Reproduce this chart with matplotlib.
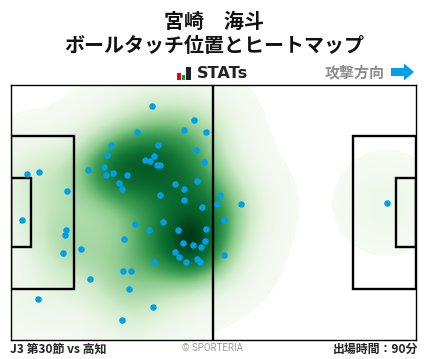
import numpy as np
import matplotlib
matplotlib.use("Agg")
import matplotlib.pyplot as plt
from matplotlib.colors import LinearSegmentedColormap
from matplotlib.patches import Rectangle, FancyArrow

plt.rcParams['font.family'] = ['Noto Sans CJK JP', 'DejaVu Sans']

# ピッチの座標（左下が原点）
touch_x = [141, 183, 173, 195, 126, 100, 147, 185, 96, 143, 134, 139, 193, 93, 146, 149,
           77, 102, 28, 16, 95, 116, 108, 186, 164, 173, 111, 56, 149, 173, 191, 11,
           124, 152, 209, 206, 230, 213, 376, 138, 167, 195, 55, 54, 113, 194, 172, 182,
           190, 70, 52, 164, 168, 175, 186, 189, 143, 112, 120, 79, 118, 27, 142, 111, 213]
touch_y = [234, 220, 210, 208, 208, 195, 195, 190, 185, 184, 180, 179, 178, 173, 175, 175,
           170, 167, 168, 166, 165, 165, 157, 159, 156, 151, 151, 149, 145, 140, 133, 120,
           116, 118, 145, 136, 136, 120, 137, 110, 110, 111, 110, 105, 101, 99, 97, 95,
           93, 91, 87, 88, 83, 78, 81, 78, 78, 69, 69, 61, 51, 41, 33, 20, 85]

pitch_w = 405
pitch_h = 255
box_w, box_y0, box_y1 = 63, 51, 204
goal_w, goal_y0, goal_y1 = 20, 93, 162

title_lines = ["宮崎　海斗", "ボールタッチ位置とヒートマップ"]
footer_left = "J3 第30節 vs 高知"
footer_mid = "© SPORTERIA"
footer_right = "出場時間：90分"
direction_label = "攻撃方向"

heat_colors = [(0.0, '#f5faf3'), (0.1, '#ecf6e8'), (0.25, '#cfeac9'), (0.45, '#8ccb8c'),
               (0.62, '#3c9e54'), (0.8, '#0f7434'), (0.92, '#045a26'), (1.0, '#00391a')]


def touch_density(xs, ys, bw=26.5):
    # タッチ位置からガウスカーネルで密度を計算
    gx, gy = np.meshgrid(np.arange(0, pitch_w + 0.5, 1.0), np.arange(0, pitch_h + 0.5, 1.0))
    z = np.zeros_like(gx, dtype=float)
    for x, y in zip(xs, ys):
        z += np.exp(-((gx - x) ** 2 + (gy - y) ** 2) / (2 * bw ** 2))
    return z


fig = plt.figure(figsize=(4.28, 3.59), dpi=100)
ax = fig.add_axes([11 / 428, 19 / 359, 405 / 428, 255 / 359])

z = touch_density(touch_x, touch_y)
z = z / z.max()
z = np.ma.masked_less(z, 0.01)
cmap = LinearSegmentedColormap.from_list('heat', heat_colors)
ax.imshow(z, origin='lower', extent=[0, pitch_w, 0, pitch_h], cmap=cmap,
          vmin=0.01, vmax=1.0, aspect='auto', interpolation='nearest', zorder=1)

# ピッチのライン
lw = 1.7
for x0, w in [(0, box_w), (pitch_w - box_w, box_w)]:
    ax.add_patch(Rectangle((x0, box_y0), w, box_y1 - box_y0, fill=False, ec='black', lw=lw, zorder=2))
for x0, w in [(0, goal_w), (pitch_w - goal_w, goal_w)]:
    ax.add_patch(Rectangle((x0, goal_y0), w, goal_y1 - goal_y0, fill=False, ec='black', lw=lw, zorder=2))
ax.plot([pitch_w / 2 - 0.5, pitch_w / 2 - 0.5], [0, pitch_h], color='black', lw=1.7, zorder=2)

ax.scatter(touch_x, touch_y, s=22, color='#00a0e9', linewidths=0, zorder=3)

ax.set_xlim(0, pitch_w)
ax.set_ylim(0, pitch_h)
ax.set_xticks([])
ax.set_yticks([])
for s in ax.spines.values():
    s.set_linewidth(1.0)

# タイトル
fig.text(214 / 428, 1 - 21 / 359, title_lines[0], ha='center', va='center', fontsize=14.4, fontweight='bold', color='#111111')
fig.text(214 / 428, 1 - 46 / 359, title_lines[1], ha='center', va='center', fontsize=14.4, fontweight='bold', color='#111111')

# STATs ロゴ
overlay = fig.add_axes([0, 0, 1, 1], zorder=5)
overlay.set_xlim(0, 428)
overlay.set_ylim(359, 0)
overlay.axis('off')
overlay.add_patch(Rectangle((177, 73), 4, 7, fc='#e60012', lw=0))
overlay.add_patch(Rectangle((182, 75), 3.5, 5, fc='#00a040', lw=0))
overlay.add_patch(Rectangle((186.5, 67), 4.5, 13, fc='#222222', lw=0))
overlay.text(196.5, 74, "STATs", ha='left', va='center', fontsize=11.6, fontweight='bold', color='#222222',
             family=['DejaVu Sans'])

# 攻撃方向
overlay.text(385, 72, direction_label, ha='right', va='center', fontsize=10.8, fontweight='bold', color='#8c8c8c')
overlay.add_patch(FancyArrow(391, 72, 23, 0, width=8, head_width=17, head_length=10,
                             length_includes_head=True, fc='#00a0e9', lw=0))

# フッター
overlay.text(10, 349, footer_left, ha='left', va='center', fontsize=8.6, fontweight='bold', color='#222222')
overlay.text(213, 348, footer_mid, ha='center', va='center', fontsize=7, color='#999999',
             family=['Roboto', 'DejaVu Sans'])
overlay.text(418, 349, footer_right, ha='right', va='center', fontsize=8.6, fontweight='bold', color='#222222')

fig.savefig('out.png', dpi=100)
